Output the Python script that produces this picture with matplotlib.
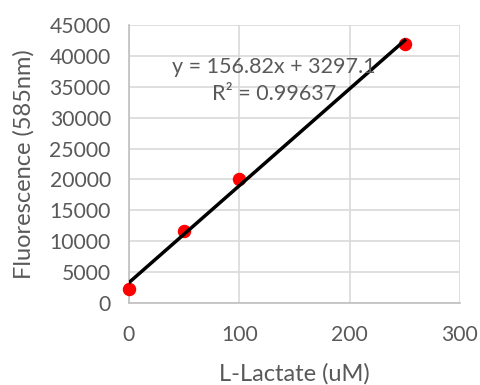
import matplotlib
matplotlib.use("Agg")
import matplotlib.pyplot as plt
import numpy as np

x_vals = [0, 50, 100, 250]
y_vals = [2250, 11600, 20100, 41950]
slope = 156.82
intercept = 3297.1
eq_text = "y = 156.82x + 3297.1"
r2_text = "R² = 0.99637"
x_ticks = [0, 100, 200, 300]
y_ticks = list(range(0, 45001, 5000))

plt.rcParams['font.family'] = ['Lato', 'DejaVu Sans']
gray = '#595959'

fig = plt.figure(figsize=(4.81, 3.85), dpi=100)
ax = fig.add_axes([0.268, 0.213, 0.688, 0.722])

ax.set_xlim(0, 300)
ax.set_ylim(0, 45000)
ax.set_xticks(x_ticks)
ax.set_yticks(y_ticks)
ax.grid(True, color='#d9d9d9', linewidth=1.2)
ax.set_axisbelow(True)
for s in ['top', 'right']:
    ax.spines[s].set_visible(False)
for s in ['left', 'bottom']:
    ax.spines[s].set_color('#bfbfbf')
    ax.spines[s].set_linewidth(1.2)
ax.tick_params(length=0, labelsize=15.2, labelcolor=gray)
ax.tick_params(axis='y', pad=13)
ax.tick_params(axis='x', pad=16)

ax.scatter(x_vals, y_vals, s=75, color='#ff0000', zorder=3, clip_on=False)
xl = np.array([min(x_vals), max(x_vals)])
ax.plot(xl, slope * xl + intercept, color='black', linewidth=2.5, zorder=4)

ax.text(0.438, 0.849, eq_text, transform=ax.transAxes, ha='center', va='center',
        fontsize=15.5, color=gray, zorder=5)
ax.text(0.438, 0.752, r2_text, transform=ax.transAxes, ha='center', va='center',
        fontsize=15.5, color=gray, zorder=5)

ax.set_xlabel('L-Lactate (uM)', fontsize=17, color=gray, labelpad=13)
ax.set_ylabel('Fluorescence (585nm)', fontsize=17, color=gray, labelpad=11)

fig.savefig('out.png', dpi=100)
